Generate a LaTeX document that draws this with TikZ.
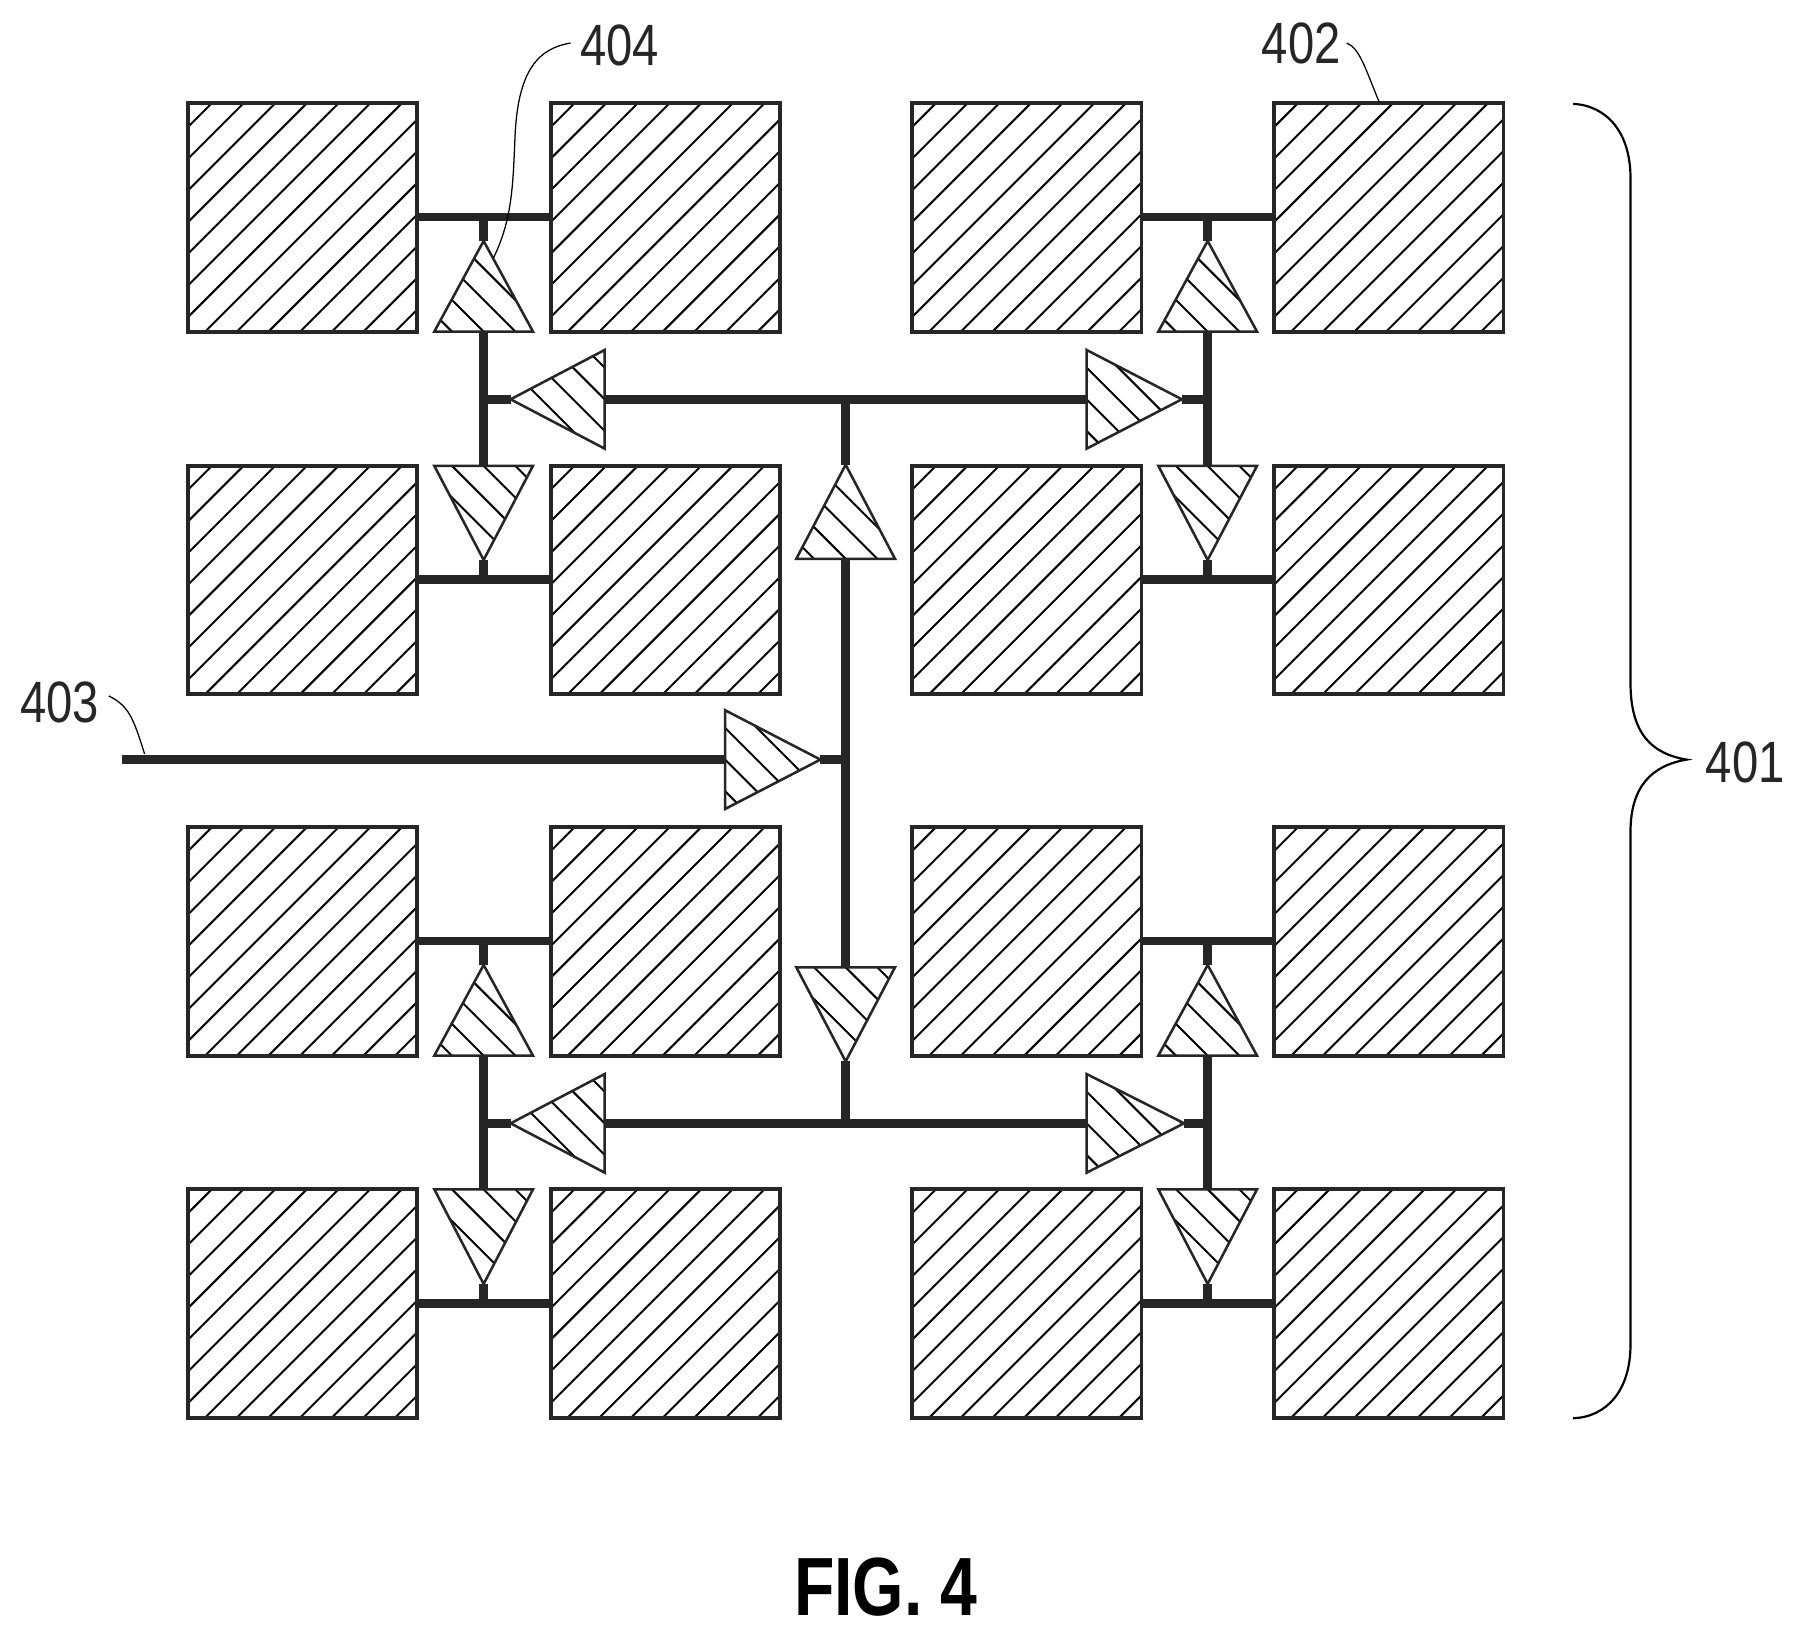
\documentclass[tikz,border=0pt]{standalone}
\usepackage{fontspec}
\setmainfont{Liberation Sans}
\newfontfamily\labf[FakeStretch=0.81]{Liberation Sans}
\newfontfamily\figf[FakeStretch=0.8]{Liberation Sans}
\definecolor{ink}{HTML}{262626}
\tikzset{
  wire/.style={draw=ink,line width=3.7pt,line cap=butt},
  hatchln/.style={draw=black,line width=0.87pt},
  cellbox/.style={draw=ink,line width=1.7pt,rectangle,minimum width=99.9pt,minimum height=99.5pt,inner sep=0pt,outer sep=0pt},
  triline/.style={draw=ink,line width=1.1pt,line join=miter},
  leader/.style={draw=black,line width=0.55pt},
  bracket/.style={draw=black,line width=0.95pt},
  lab/.style={font=\labf\fontsize{25.4pt}{26pt}\selectfont,text=ink,inner sep=0pt},
}
% name, left, top
\newcommand{\cell}[3]{%
  \begin{scope}
    \clip (#2,#3) rectangle ++(199.8,199);
    \foreach \k in {0,...,15}{\draw[hatchln] ({#2+20.6+27.6*\k},#3) -- ++(-450,450);}
  \end{scope}
  \node[cellbox] (#1) at ({#2+99.9},{#3+99.5}) {};
}
% name, apex x,y, base x,y, half-base vector
\newcommand{\tri}[7]{%
  \coordinate (#1a) at (#2,#3);
  \coordinate (#1b) at (#4,#5);
  \begin{scope}
    \clip (#2,#3) -- ({#4+#6},{#5+#7}) -- ({#4-#6},{#5-#7}) -- cycle;
    \foreach \k in {-4,...,4}{\draw[hatchln] ({#4+27.6*\k-200},{#5-200}) -- ++(400,400);}
  \end{scope}
  \draw[triline] (#2,#3) -- ({#4+#6},{#5+#7}) -- ({#4-#6},{#5-#7}) -- cycle;
}
\begin{document}
\begin{tikzpicture}[x=0.5pt,y=-0.5pt]
\useasboundingbox[fill=white] (0,0) rectangle (1567,1424);
% cells
\cell{a1}{164}{90}\cell{a2}{480}{90}\cell{a3}{795}{90}\cell{a4}{1110.5}{90}
\cell{b1}{164}{406}\cell{b2}{480}{406}\cell{b3}{795}{406}\cell{b4}{1110.5}{406}
\cell{c1}{164}{721}\cell{c2}{480}{721}\cell{c3}{795}{721}\cell{c4}{1110.5}{721}
\cell{d1}{164}{1036.5}\cell{d2}{480}{1036.5}\cell{d3}{795}{1036.5}\cell{d4}{1110.5}{1036.5}
% buffers
\tri{ta1}{421.5}{210}{421.5}{289}{43}{0}
\tri{ta2}{1052.5}{210}{1052.5}{289}{43}{0}
\tri{tb1}{421.5}{488}{421.5}{406}{43}{0}
\tri{tb2}{1052.5}{488}{1052.5}{406}{43}{0}
\tri{tc1}{421.5}{841}{421.5}{920}{43}{0}
\tri{tc2}{1052.5}{841}{1052.5}{920}{43}{0}
\tri{td1}{421.5}{1119}{421.5}{1036.5}{43}{0}
\tri{td2}{1052.5}{1119}{1052.5}{1036.5}{43}{0}
\tri{hu1}{445}{348}{527}{348}{0}{43}
\tri{hu2}{1030}{348}{947}{348}{0}{43}
\tri{hl1}{445}{979}{527}{979}{0}{43}
\tri{hl2}{1032}{979}{947}{979}{0}{43}
\tri{mu}{737}{405}{737}{487}{43}{0}
\tri{md}{737}{925}{737}{843}{43}{0}
\tri{inb}{715}{662}{632}{662}{0}{43}
% junctions
\coordinate (ja1) at (421.5,189);
\coordinate (ja2) at (1052.5,189);
\coordinate (jb1) at (421.5,505);
\coordinate (jb2) at (1052.5,505);
\coordinate (jc1) at (421.5,820);
\coordinate (jc2) at (1052.5,820);
\coordinate (jd1) at (421.5,1136);
\coordinate (jd2) at (1052.5,1136);
\coordinate (ju1) at (421.5,348);
\coordinate (ju2) at (1052.5,348);
\coordinate (jl1) at (421.5,979);
\coordinate (jl2) at (1052.5,979);
\coordinate (ju0) at (737,348);
\coordinate (jl0) at (737,979);
\coordinate (jm) at (737,662);
\coordinate (in0) at (106,662);
% wires
\draw[wire] (a1.east |- ja1) -- (a2.west |- ja1);
\draw[wire] (a3.east |- ja2) -- (a4.west |- ja2);
\draw[wire] (b1.east |- jb1) -- (b2.west |- jb1);
\draw[wire] (b3.east |- jb2) -- (b4.west |- jb2);
\draw[wire] (c1.east |- jc1) -- (c2.west |- jc1);
\draw[wire] (c3.east |- jc2) -- (c4.west |- jc2);
\draw[wire] (d1.east |- jd1) -- (d2.west |- jd1);
\draw[wire] (d3.east |- jd2) -- (d4.west |- jd2);
\draw[wire] (ja1) -- (ta1a);
\draw[wire] (ja2) -- (ta2a);
\draw[wire] (jb1) -- (tb1a);
\draw[wire] (jb2) -- (tb2a);
\draw[wire] (jc1) -- (tc1a);
\draw[wire] (jc2) -- (tc2a);
\draw[wire] (jd1) -- (td1a);
\draw[wire] (jd2) -- (td2a);
\draw[wire] (ta1b) -- (tb1b);
\draw[wire] (ta2b) -- (tb2b);
\draw[wire] (tc1b) -- (td1b);
\draw[wire] (tc2b) -- (td2b);
\draw[wire] (ju1) -- (hu1a);
\draw[wire] (hu1b) -- (hu2b);
\draw[wire] (hu2a) -- (ju2);
\draw[wire] (jl1) -- (hl1a);
\draw[wire] (hl1b) -- (hl2b);
\draw[wire] (hl2a) -- (jl2);
\draw[wire] (ju0) -- (mua);
\draw[wire] (mub) -- (mdb);
\draw[wire] (mda) -- (jl0);
\draw[wire] (in0) -- (inbb);
\draw[wire] (inba) -- (jm);
% brace
\draw[bracket] (1371,90.5) .. controls (1400,92) and (1421,115) .. (1421,155) -- (1421,595) .. controls (1421,640) and (1440,657) .. (1470,662) .. controls (1440,667) and (1421,685) .. (1421,725) -- (1421,1172) .. controls (1421,1212) and (1400,1235) .. (1371,1236);
% labels
\node[lab] (l404) at (540,39.5) {404};
\node[lab] (l402) at (1134,37.5) {402};
\node[lab] (l403) at (52,612.5) {403};
\node[lab] (l401) at (1521,664.5) {401};
\node[font=\figf\bfseries\fontsize{36pt}{38pt}\selectfont,inner sep=0pt] (fig) at (772,1383) {FIG. 4};
% leaders
\coordinate (e404) at (430,225);
\coordinate (e402) at (1202,89);
\coordinate (e403) at (126,657);
\draw[leader] (l404.west) ++(-8,-2) .. controls (470,42) and (452,60) .. (449,116) .. controls (447,160) and (447,190) .. (e404);
\draw[leader] (l402.east) ++(5,0) .. controls (1185,42) and (1190,60) .. (e402);
\draw[leader] (l403.east) ++(8,-6) .. controls (112,615) and (116,625) .. (e403);
\end{tikzpicture}
\end{document}
